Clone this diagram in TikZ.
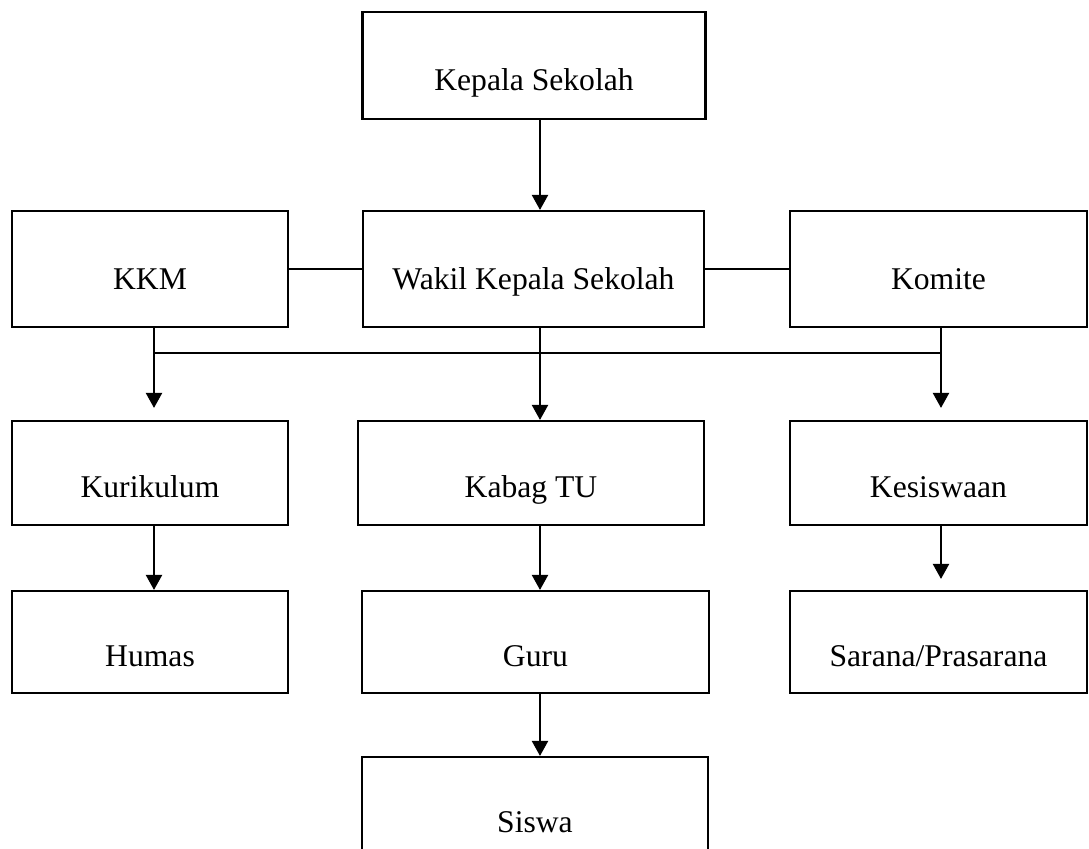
\documentclass[tikz,border=0pt]{standalone}
\usepackage{fontspec}
\setmainfont{Liberation Serif}
\usepackage{tikz}
\usetikzlibrary{arrows.meta}

\begin{document}
\begin{tikzpicture}[
  box/.style={rectangle,draw=black,line width=1.2pt,fill=white,
              inner sep=0pt,text height=28pt,text depth=0pt,
              font=\fontsize{18}{22}\selectfont,align=center},
  arr/.style={line width=1.2pt,-{Triangle[length=0.3cm,width=0.32cm]}},
  link/.style={line width=1.2pt},
]
  \useasboundingbox (0,0) rectangle (21.78,-16.96);

  % column lines
  \coordinate (colL) at (3.08,0);
  \coordinate (colM) at (10.80,0);
  \coordinate (colR) at (18.82,0);
  \coordinate (bus)  at (0,-7.06);

  \node[box,minimum width=6.86cm,minimum height=2.14cm](KS) at (10.68,-1.31) {Kepala Sekolah};

  \node[box,text height=23pt,minimum width=5.52cm,minimum height=2.32cm](KKM) at (3.00,-5.38) {KKM};
  \node[box,text height=23pt,minimum width=6.82cm,minimum height=2.32cm](WKS) at (10.67,-5.38) {Wakil Kepala Sekolah};
  \node[box,text height=23pt,minimum width=5.94cm,minimum height=2.32cm](KOM) at (18.77,-5.38) {Komite};

  \node[box,minimum width=5.52cm,minimum height=2.08cm](KUR) at (3.00,-9.46) {Kurikulum};
  \node[box,minimum width=6.92cm,minimum height=2.08cm](TU) at (10.62,-9.46) {Kabag TU};
  \node[box,minimum width=5.94cm,minimum height=2.08cm](KES) at (18.77,-9.46) {Kesiswaan};

  \node[box,minimum width=5.52cm,minimum height=2.04cm](HUM) at (3.00,-12.84) {Humas};
  \node[box,minimum width=6.94cm,minimum height=2.04cm](GURU) at (10.71,-12.84) {Guru};
  \node[box,minimum width=5.94cm,minimum height=2.04cm](SAR) at (18.77,-12.84) {Sarana/Prasarana};

  \node[box,minimum width=6.92cm,minimum height=2.04cm](SIS) at (10.70,-16.16) {Siswa};

  % side links
  \draw[link] (KKM) -- (WKS);
  \draw[link] (WKS) -- (KOM);

  % bus line
  \draw[link] (bus -| colL) -- (bus -| colR);
  \draw[arr,shorten >=0.24cm] (KKM.south -| colL) -- (KUR.north -| colL);
  \draw[arr,shorten >=0.24cm] (KOM.south -| colR) -- (KES.north -| colR);
  \draw[arr,shorten >=0.22cm] (KES.south -| colR) -- (SAR.north -| colR);

  \foreach \a/\b/\c in {KS/WKS/M, WKS/TU/M, TU/GURU/M, GURU/SIS/M, KUR/HUM/L}{%
    \draw[arr] (\a.south -| col\c) -- (\b.north -| col\c);}
\end{tikzpicture}
\end{document}
